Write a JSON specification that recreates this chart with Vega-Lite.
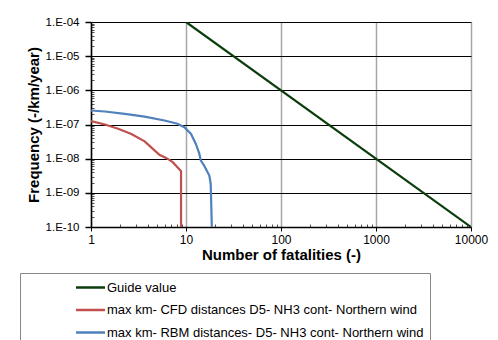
{
  "$schema": "https://vega.github.io/schema/vega-lite/v6.json",
  "width": 380,
  "height": 205,
  "autosize": {"type": "none"},
  "padding": {"left": 91, "top": 22, "right": 27, "bottom": 113},
  "background": "white",
  "config": {"font": "Liberation Sans", "view": {"stroke": null}},
  "data": {"values": [
    {"series": "Guide value", "i": 0, "x": 10, "y": 1e-4},
    {"series": "Guide value", "i": 1, "x": 10000, "y": 1e-10},
    {"series": "max km- CFD distances  D5- NH3 cont- Northern wind", "i": 0, "x": 1, "y": 1.25e-7},
    {"series": "max km- CFD distances  D5- NH3 cont- Northern wind", "i": 1, "x": 1.4, "y": 1.0e-7},
    {"series": "max km- CFD distances  D5- NH3 cont- Northern wind", "i": 2, "x": 1.93, "y": 7.5e-8},
    {"series": "max km- CFD distances  D5- NH3 cont- Northern wind", "i": 3, "x": 2.66, "y": 5.3e-8},
    {"series": "max km- CFD distances  D5- NH3 cont- Northern wind", "i": 4, "x": 3.67, "y": 3.2e-8},
    {"series": "max km- CFD distances  D5- NH3 cont- Northern wind", "i": 5, "x": 4.48, "y": 1.94e-8},
    {"series": "max km- CFD distances  D5- NH3 cont- Northern wind", "i": 6, "x": 5.25, "y": 1.3e-8},
    {"series": "max km- CFD distances  D5- NH3 cont- Northern wind", "i": 7, "x": 6.17, "y": 1.05e-8},
    {"series": "max km- CFD distances  D5- NH3 cont- Northern wind", "i": 8, "x": 7.25, "y": 7.9e-9},
    {"series": "max km- CFD distances  D5- NH3 cont- Northern wind", "i": 9, "x": 8.13, "y": 5.6e-9},
    {"series": "max km- CFD distances  D5- NH3 cont- Northern wind", "i": 10, "x": 8.87, "y": 4.3e-9},
    {"series": "max km- CFD distances  D5- NH3 cont- Northern wind", "i": 11, "x": 8.87, "y": 1e-10},
    {"series": "max km- RBM distances- D5- NH3 cont- Northern wind", "i": 0, "x": 1, "y": 2.57e-7},
    {"series": "max km- RBM distances- D5- NH3 cont- Northern wind", "i": 1, "x": 1.4, "y": 2.4e-7},
    {"series": "max km- RBM distances- D5- NH3 cont- Northern wind", "i": 2, "x": 2.27, "y": 2.05e-7},
    {"series": "max km- RBM distances- D5- NH3 cont- Northern wind", "i": 3, "x": 3.67, "y": 1.7e-7},
    {"series": "max km- RBM distances- D5- NH3 cont- Northern wind", "i": 4, "x": 5.93, "y": 1.31e-7},
    {"series": "max km- RBM distances- D5- NH3 cont- Northern wind", "i": 5, "x": 8.13, "y": 1.05e-7},
    {"series": "max km- RBM distances- D5- NH3 cont- Northern wind", "i": 6, "x": 9.6, "y": 8.3e-8},
    {"series": "max km- RBM distances- D5- NH3 cont- Northern wind", "i": 7, "x": 11.3, "y": 5.3e-8},
    {"series": "max km- RBM distances- D5- NH3 cont- Northern wind", "i": 8, "x": 12.7, "y": 2.7e-8},
    {"series": "max km- RBM distances- D5- NH3 cont- Northern wind", "i": 9, "x": 13.8, "y": 1.4e-8},
    {"series": "max km- RBM distances- D5- NH3 cont- Northern wind", "i": 10, "x": 14.3, "y": 8.9e-9},
    {"series": "max km- RBM distances- D5- NH3 cont- Northern wind", "i": 11, "x": 15.5, "y": 6.3e-9},
    {"series": "max km- RBM distances- D5- NH3 cont- Northern wind", "i": 12, "x": 17.6, "y": 3.2e-9},
    {"series": "max km- RBM distances- D5- NH3 cont- Northern wind", "i": 13, "x": 18.2, "y": 1.85e-9},
    {"series": "max km- RBM distances- D5- NH3 cont- Northern wind", "i": 14, "x": 18.7, "y": 1e-10}
  ]},
  "layer": [
    {
      "mark": {"type": "point", "opacity": 0},
      "encoding": {
        "x": {"field": "x", "type": "quantitative", "scale": {"type": "log", "domain": [1, 10000]},
          "axis": {"orient": "bottom", "values": [2,3,4,5,6,7,8,9,20,30,40,50,60,70,80,90,200,300,400,500,600,700,800,900,2000,3000,4000,5000,6000,7000,8000,9000],
            "labels": false, "grid": false, "domain": false, "title": null, "tickSize": -3, "tickColor": "#555", "tickWidth": 1}},
        "y": {"field": "y", "type": "quantitative", "scale": {"type": "log", "domain": [1e-10, 1e-4]},
          "axis": {"orient": "left", "values": [2e-10,3e-10,4e-10,5e-10,6e-10,7e-10,8e-10,9e-10,2e-9,3e-9,4e-9,5e-9,6e-9,7e-9,8e-9,9e-9,2e-8,3e-8,4e-8,5e-8,6e-8,7e-8,8e-8,9e-8,2e-7,3e-7,4e-7,5e-7,6e-7,7e-7,8e-7,9e-7,2e-6,3e-6,4e-6,5e-6,6e-6,7e-6,8e-6,9e-6,2e-5,3e-5,4e-5,5e-5,6e-5,7e-5,8e-5,9e-5],
            "labels": false, "grid": false, "domain": false, "title": null, "tickSize": -3, "tickColor": "#555", "tickWidth": 1}}
      }
    },
    {
      "mark": {"type": "line", "strokeWidth": 2.2, "clip": true},
      "encoding": {
        "x": {"field": "x", "type": "quantitative", "scale": {"type": "log", "domain": [1, 10000]},
          "axis": {"orient": "bottom", "values": [1, 10, 100, 1000, 10000], "format": "d",
            "title": "Number of fatalities (-)", "titleFontSize": 15, "titleFontWeight": "bold", "titleColor": "black", "titlePadding": 2,
            "labelFontSize": 12, "labelColor": "black", "labelPadding": 3, "labelFlush": false,
            "grid": true, "gridColor": "#a6a6a6", "gridWidth": 1.5,
            "domainColor": "black", "domainWidth": 1.5, "tickColor": "black", "tickSize": 4}},
        "y": {"field": "y", "type": "quantitative", "scale": {"type": "log", "domain": [1e-10, 1e-4]},
          "axis": {"orient": "left", "values": [1e-10, 1e-9, 1e-8, 1e-7, 1e-6, 1e-5, 1e-4],
            "labelExpr": "'1.E-' + (round(-log(datum.value)/LN10) < 10 ? '0' : '') + round(-log(datum.value)/LN10)",
            "title": "Frequency (-/km/year)", "titleFontSize": 15, "titleFontWeight": "bold", "titleColor": "black", "titlePadding": 4,
            "labelFontSize": 11.5, "labelColor": "black", "labelPadding": 6, "labelFlush": false,
            "grid": true, "gridColor": "black", "gridWidth": 1.2,
            "domainColor": "black", "domainWidth": 1.5, "tickColor": "black", "tickSize": 6, "tickWidth": 1.5}},
        "color": {"field": "series", "type": "nominal",
          "scale": {"domain": ["Guide value", "max km- CFD distances  D5- NH3 cont- Northern wind", "max km- RBM distances- D5- NH3 cont- Northern wind"],
            "range": ["#0b3d0b", "#c0504d", "#4f81bd"]},
          "legend": {"orient": "none", "legendX": -71, "legendY": 251, "title": " ", "titleOrient": "left", "titlePadding": 56,
            "symbolType": "M-2,0H2", "symbolSize": 210, "symbolStrokeWidth": 2.5, "symbolFillColor": "transparent",
            "labelFontSize": 13, "labelColor": "black",
            "labelOffset": 8, "rowPadding": 6.5, "padding": 6, "strokeColor": "#888", "labelLimit": 400}},
        "order": {"field": "i", "type": "quantitative"}
      }
    }
  ],
  "resolve": {"axis": {"x": "independent", "y": "independent"}}
}
